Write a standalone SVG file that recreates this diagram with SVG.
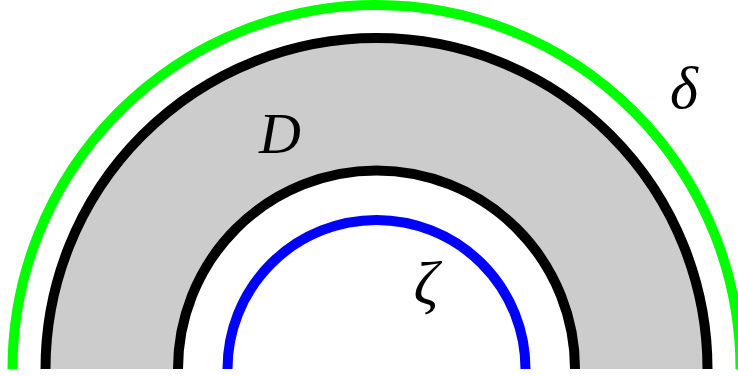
<svg xmlns="http://www.w3.org/2000/svg" width="738" height="376" viewBox="0 0 738 376">
<style>
.arc{fill:none;stroke-width:10;stroke-linecap:butt}
.lbl{font-family:"Liberation Serif","DejaVu Serif",serif;font-style:italic;fill:#000;text-anchor:middle}
</style>
<rect width="738" height="376" fill="#fff"/>
<g id="region-D">
<path d="M45.5 369 A331 331 0 0 1 707.5 369 L575 369 A198.5 198.5 0 0 0 178 369 Z" fill="#cccccc"/>
</g>
<g id="connectors">
<path id="delta" class="arc" stroke="#00ff00" d="M12.5 369 A364 364 0 0 1 740.5 369"/>
<path id="outer" class="arc" stroke="#000" d="M45.5 369 A331 331 0 0 1 707.5 369"/>
<path id="inner" class="arc" stroke="#000" d="M178 369 A198.5 198.5 0 0 1 575 369"/>
<path id="zeta" class="arc" stroke="#0000ff" d="M227.5 369 A149 149 0 0 1 525.5 369"/>
</g>
<g id="labels">
<text class="lbl" x="280" y="153" font-size="58">D</text>
<text class="lbl" x="684" y="108" font-size="60">δ</text>
<text class="lbl" x="426" y="304" font-size="62">ζ</text>
</g>
</svg>
